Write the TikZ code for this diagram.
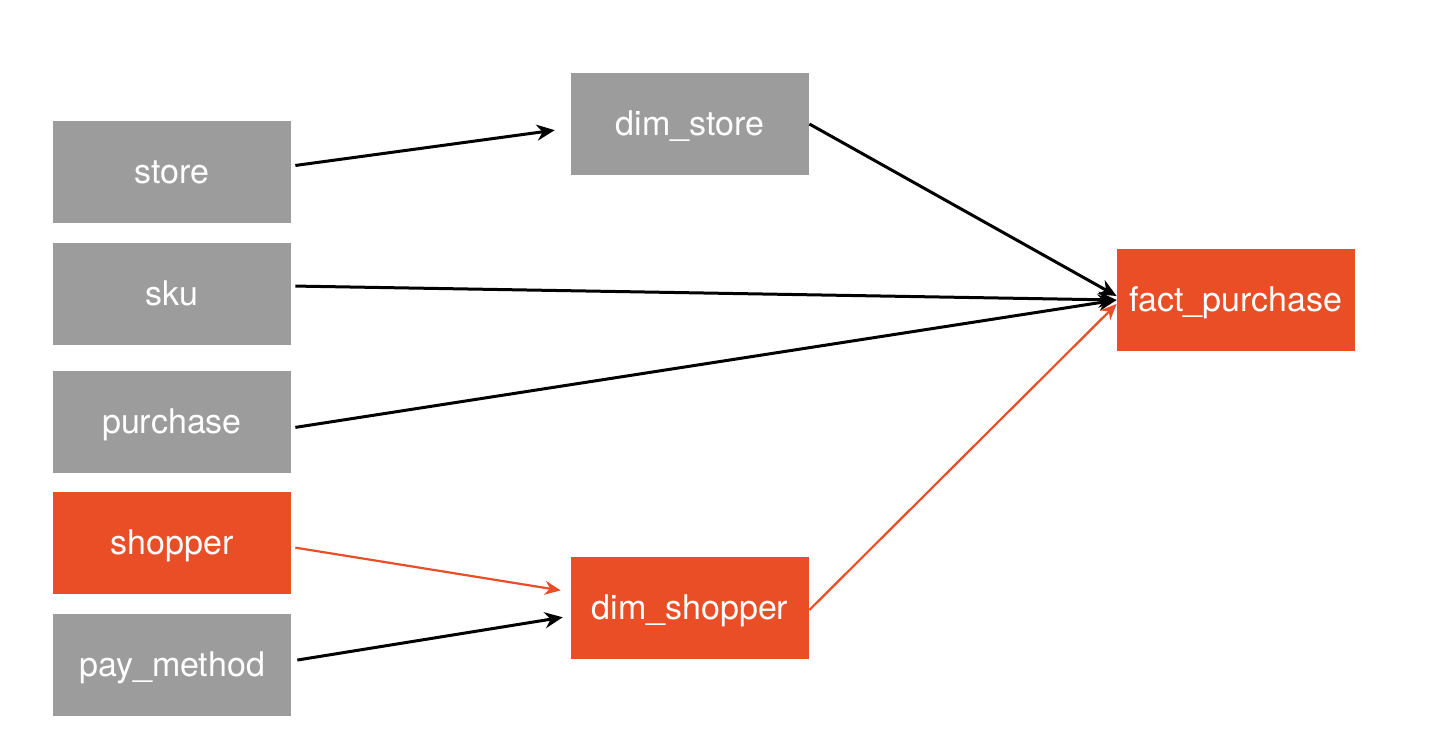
\documentclass[tikz,border=0pt]{standalone}
\usepackage{fontspec}
\setmainfont{TeX Gyre Heros}
\usepackage{tikz}
\usetikzlibrary{arrows.meta}

\definecolor{boxgray}{HTML}{9C9C9C}
\definecolor{boxred}{HTML}{E94E26}

\tikzset{
  table/.style={fill=#1, text=white, minimum width=119pt, minimum height=51pt,
    inner sep=0pt, text height=12pt, text depth=1pt, font=\fontsize{17}{20}\selectfont},
  flow/.style={line width=1.5pt, -{Stealth[length=9pt,width=8pt]}},
  redflow/.style={boxred, line width=1.1pt, -{Stealth[length=8pt,width=7pt]}}
}

\begin{document}
\begin{tikzpicture}[x=0.5pt, y=-0.5pt]
			% Fix the page size
			\useasboundingbox (0,0) rectangle (1432,756);

			% Source tables
			\node[table=boxgray] (store) at (172,172) {store};
			\node[table=boxgray] (sku) at (172,294) {sku};
			\node[table=boxgray] (purchase) at (172,422) {purchase};
			\node[table=boxred] (shopper) at (172,543) {shopper};
			\node[table=boxgray] (paymethod) at (172,665) {pay\_method};

			% Dimension tables
			\node[table=boxgray] (dimstore) at (690,124) {dim\_store};
			\node[table=boxred] (dimshopper) at (690,608) {dim\_shopper};

			% Fact table
			\node[table=boxred] (fact) at (1236,300) {fact\_purchase};

			% Arrows into the dimensions
			\draw[flow, shorten <=2pt, shorten >=8pt] ([yshift=3pt]store.east) -- ([yshift=-2pt]dimstore.west);
			\draw[redflow, shorten <=2pt, shorten >=5pt] ([yshift=-2pt]shopper.east) -- ([yshift=8pt]dimshopper.west);
			\draw[flow, shorten <=3pt, shorten >=4pt] ([yshift=2pt]paymethod.east) -- ([yshift=-4pt]dimshopper.west);

			% Arrows into the fact table
			\draw[flow] (dimstore.east) -- ([yshift=2pt]fact.west);
			\draw[flow, shorten <=2pt] ([yshift=4pt]sku.east) -- (fact.west);
			\draw[flow, shorten <=2pt] ([yshift=-3pt]purchase.east) -- (fact.west);
			\draw[redflow] ([yshift=-1pt]dimshopper.east) -- ([yshift=-2pt]fact.west);
		\end{tikzpicture}
\end{document}
